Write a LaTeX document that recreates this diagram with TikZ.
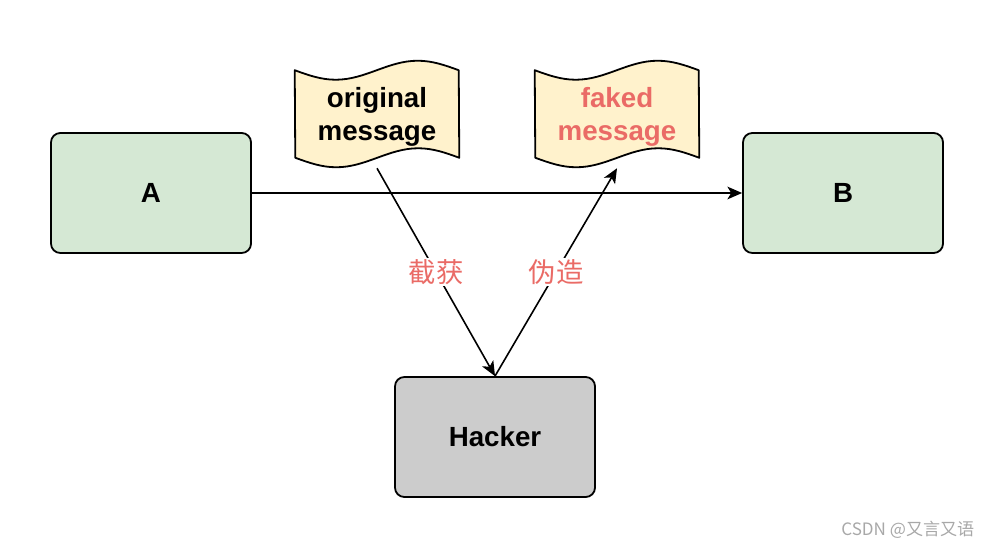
\documentclass[tikz,border=0pt]{standalone}
\usepackage{fontspec}
\setmainfont{Liberation Sans}
\newfontfamily\cjk{Noto Sans CJK SC}
\usepackage{xcolor}
\usepackage{tikz}
\usetikzlibrary{arrows.meta,backgrounds,calc,positioning}
\definecolor{partyfill}{HTML}{D5E8D4}
\definecolor{hackfill}{HTML}{CCCCCC}
\definecolor{msgfill}{HTML}{FFF2CC}
\definecolor{fakered}{HTML}{EA6B66}
\definecolor{markgray}{HTML}{A8A8A8}
\tikzset{
  box/.style={draw,rounded corners=7pt,line width=1.35pt,minimum width=150pt,
              minimum height=90pt,font=\fontsize{20.8}{25}\selectfont\bfseries},
  party/.style={box,fill=partyfill},
  hacker/.style={box,fill=hackfill},
  tape/.style={minimum width=123pt,minimum height=81pt,align=center,inner sep=0pt,
               text depth=0pt,font=\fontsize{20.8}{25}\selectfont\bfseries},
  tapeline/.style={draw,line width=1.35pt,fill=msgfill,line join=round},
  arrow/.style={-{Stealth[length=11pt,width=9.5pt,inset=2.8pt]},line width=1.2pt},
  tag/.style={midway,fill=white,inner sep=1pt,text=fakered,
              font=\cjk\fontsize{20.5}{24}\selectfont}
}
% wavy paper outline round a tape node
\newcommand\tapeshape[1]{%
  \path[tapeline] ($(#1.north west)+(0,10.5)$) sin ++(41,9.5) cos ++(41,-9.5)
    sin ++(41,-9.5) cos ++(41,9.5) -- ($(#1.south east)+(0,-10.5)$)
    sin ++(-41,-9.5) cos ++(-41,9.5) sin ++(-41,9.5) cos ++(-41,-9.5) -- cycle;}

\begin{document}
\begin{tikzpicture}[x=0.75pt,y=-0.75pt]
  \useasboundingbox (0,0) rectangle (994,548);

  \node[party] (A) at (151,193) {A};
  \node[party] (B) at (843,193) {B};
  \node[hacker] (hk) at (495,437) {Hacker};

  \node[tape] (orig) at (377,114) {original\\message};
  \node[tape,text=fakered] (fake) at (617,114) {faked\\message};
  \begin{scope}[on background layer]
    \tapeshape{orig}
    \tapeshape{fake}
  \end{scope}

  \draw[arrow] (A.east)--(B.west);
  \draw[arrow] (orig.south)--(hk.north) node[tag] {截获};
  \draw[arrow] (hk.north)--(fake.south) node[tag] {伪造};

  \node[anchor=east,text=markgray,font=\cjk\fontsize{12.8}{15}\selectfont] (mark)
    at (979,530) {CSDN @又言又语};
\end{tikzpicture}
\end{document}
